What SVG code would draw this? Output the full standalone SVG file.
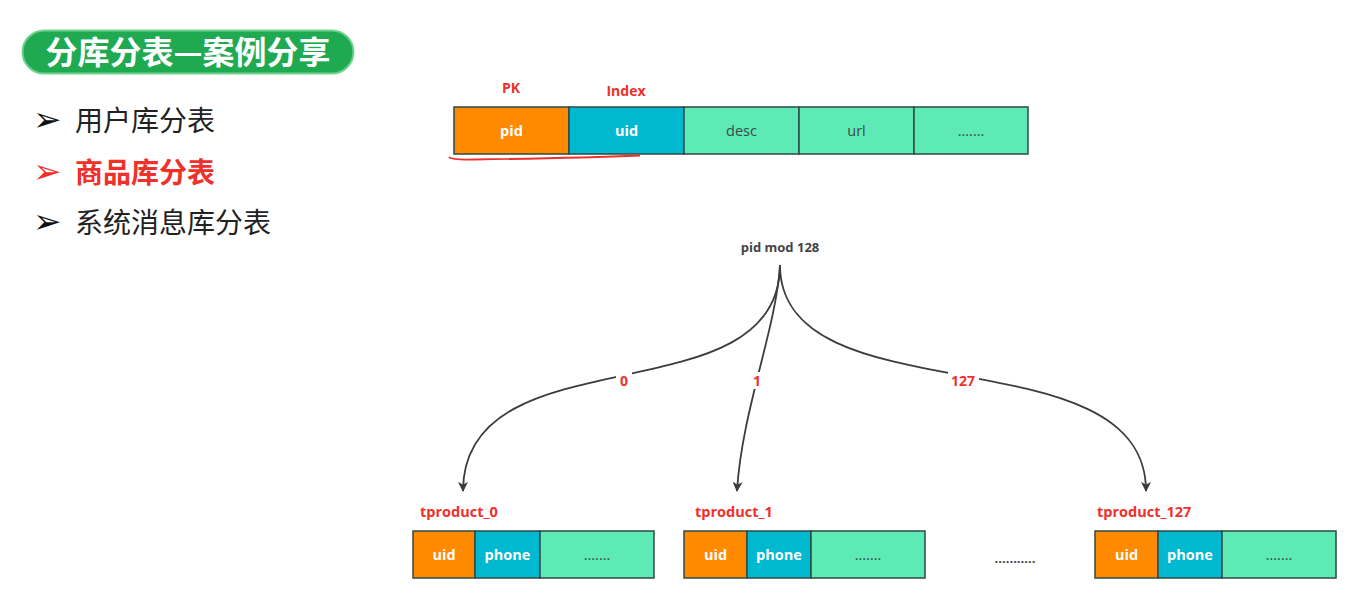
<svg xmlns="http://www.w3.org/2000/svg" width="1371" height="607" viewBox="0 0 1371 607">
<style>
.cjk{font-family:"Noto Sans CJK SC","Noto Sans",sans-serif}
.lbl{font-family:"Open Sans","Liberation Sans",sans-serif;font-weight:bold;text-anchor:middle}
.red{fill:#f0302a}
.cell{stroke:#2e4a44;stroke-width:1.5}
.or{fill:#ff8a00}
.bl{fill:#00b8cf}
.gr{fill:#5deab5}
.wt{fill:#ffffff;font-size:14.5px}
.dk{fill:#3a4a46;font-size:14.5px;font-weight:normal}
.edge{fill:none;stroke:#3c3c3c;stroke-width:1.8}
.bul{font-family:"DejaVu Sans",sans-serif;font-size:34px}
</style>
<defs>
<marker id="ah" viewBox="0 0 10 10" refX="9" refY="5" markerWidth="10" markerHeight="10" markerUnits="userSpaceOnUse" orient="auto">
<path d="M0,0 L10,5 L0,10 L2.5,5 z" fill="#3c3c3c"/>
</marker>
</defs>
<rect width="1371" height="607" fill="#ffffff"/>

<g id="title">
<rect x="22.5" y="30.5" width="331" height="43" rx="21.5" fill="#1faa52" stroke="#6fd38f" stroke-width="2"/>
<text x="188" y="63.5" class="cjk" font-size="32" font-weight="bold" fill="#ffffff" text-anchor="middle">分库分表—案例分享</text>
</g>

<g id="bullets">
<text x="33" y="131" class="bul" fill="#111">➢</text>
<text x="75" y="131" class="cjk" font-size="28" fill="#222">用户库分表</text>
<text x="33" y="183" class="bul" fill="#f0302a">➢</text>
<text x="75" y="183" class="cjk" font-size="28" font-weight="bold" fill="#f0302a">商品库分表</text>
<text x="33" y="233" class="bul" fill="#111">➢</text>
<text x="75" y="233" class="cjk" font-size="28" fill="#222">系统消息库分表</text>
</g>

<g id="product-table">
<text x="511" y="93" class="lbl red" font-size="14">PK</text>
<text x="626" y="96" class="lbl red" font-size="14">Index</text>
<rect x="454" y="107" width="115" height="47" class="cell or"/>
<rect x="569" y="107" width="115" height="47" class="cell bl"/>
<rect x="684" y="107" width="115" height="47" class="cell gr"/>
<rect x="799" y="107" width="115" height="47" class="cell gr"/>
<rect x="914" y="107" width="114" height="47" class="cell gr"/>
<text x="511.5" y="136" class="lbl wt">pid</text>
<text x="626.5" y="136" class="lbl wt">uid</text>
<text x="741.5" y="136" class="lbl dk">desc</text>
<text x="856.5" y="136" class="lbl dk">url</text>
<text x="971" y="136" class="lbl dk" font-size="11">.......</text>
<path d="M449,157 Q451,160 475,159.5 Q580,158 640,155.5" fill="none" stroke="#f0302a" stroke-width="1.8"/>
</g>

<g id="mod">
<text x="780" y="252" class="lbl" font-size="13" fill="#444">pid mod 128</text>
</g>

<g id="connectors">
<path class="edge" d="M780,265 C780,420 463,330 463,491" marker-end="url(#ah)"/>
<path class="edge" d="M780,265 C776,330 742,410 737,491" marker-end="url(#ah)"/>
<path class="edge" d="M780,265 C780,420 1146,330 1146,491" marker-end="url(#ah)"/>
<rect x="616" y="372" width="16" height="17" fill="#ffffff"/>
<rect x="750" y="372" width="14" height="17" fill="#ffffff"/>
<rect x="948" y="372" width="31" height="17" fill="#ffffff"/>
<text x="624" y="386" class="lbl red" font-size="14">0</text>
<text x="757" y="386" class="lbl red" font-size="14">1</text>
<text x="963" y="386" class="lbl red" font-size="14">127</text>
</g>

<g id="tproduct_0">
<text x="420" y="517" class="lbl red" font-size="14.5" style="text-anchor:start">tproduct_0</text>
<rect x="413" y="531" width="62" height="47" class="cell or"/>
<rect x="475" y="531" width="65" height="47" class="cell bl"/>
<rect x="540" y="531" width="114" height="47" class="cell gr"/>
<text x="444" y="560" class="lbl wt">uid</text>
<text x="507.5" y="560" class="lbl wt">phone</text>
<text x="597" y="560" class="lbl dk" font-size="11">.......</text>
</g>

<g id="tproduct_1">
<text x="695" y="517" class="lbl red" font-size="14.5" style="text-anchor:start">tproduct_1</text>
<rect x="684" y="531" width="63" height="47" class="cell or"/>
<rect x="747" y="531" width="64" height="47" class="cell bl"/>
<rect x="811" y="531" width="114" height="47" class="cell gr"/>
<text x="715.5" y="560" class="lbl wt">uid</text>
<text x="779" y="560" class="lbl wt">phone</text>
<text x="868" y="560" class="lbl dk" font-size="11">.......</text>
</g>

<text x="1015" y="563" class="lbl" font-size="13" fill="#444">...........</text>

<g id="tproduct_127">
<text x="1097" y="517" class="lbl red" font-size="14.5" style="text-anchor:start">tproduct_127</text>
<rect x="1095" y="531" width="63" height="47" class="cell or"/>
<rect x="1158" y="531" width="64" height="47" class="cell bl"/>
<rect x="1222" y="531" width="114" height="47" class="cell gr"/>
<text x="1126.5" y="560" class="lbl wt">uid</text>
<text x="1190" y="560" class="lbl wt">phone</text>
<text x="1279" y="560" class="lbl dk" font-size="11">.......</text>
</g>
</svg>
